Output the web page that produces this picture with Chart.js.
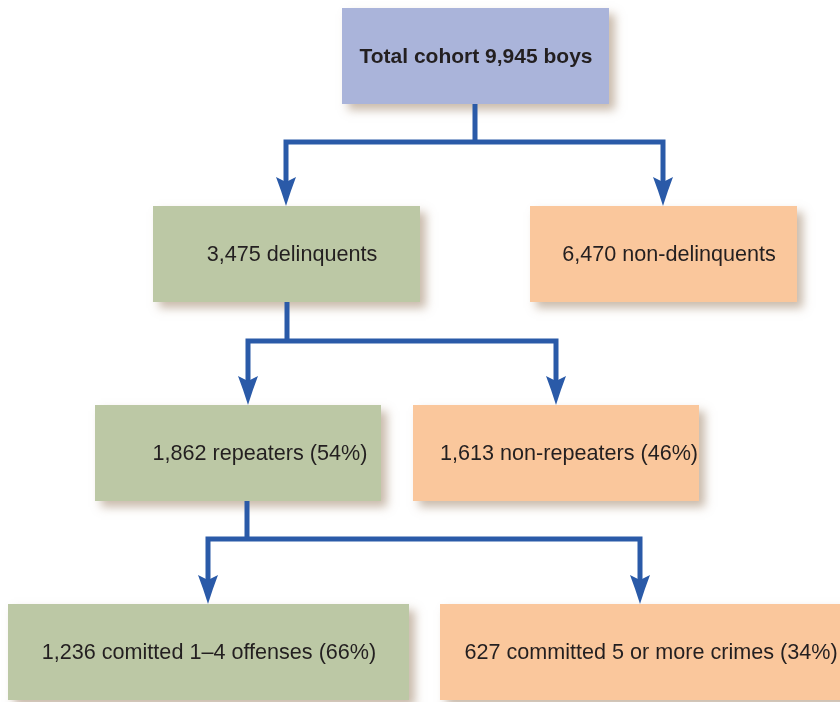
<!DOCTYPE html>
<html>
<head>
<meta charset="utf-8">
<script src="https://cdn.jsdelivr.net/npm/chart.js@4"></script>
<style>
  html, body { margin: 0; padding: 0; background: #fff; }
  canvas { display: block; }
</style>
</head>
<body>
<canvas id="chart1" width="840" height="702"></canvas>
<script>
// Nodes of the cohort tree
const nodeLabels = [
  'Total cohort 9,945 boys',
  '3,475 delinquents',
  '6,470 non-delinquents',
  '1,862 repeaters (54%)',
  '1,613 non-repeaters (46%)',
  '1,236 comitted 1\u20134 offenses (66%)',
  '627 committed 5 or more crimes (34%)'
];
const nodeKind = ['root', 'yes', 'no', 'yes', 'no', 'yes', 'no'];
// parent -> [left child, right child]
const splits = [[0, 1, 2], [1, 3, 4], [3, 5, 6]];

// Layout (px in the 840x702 frame)
const boxLeft   = [342, 153, 530,  95, 413,   8, 440];
const boxRight  = [609, 420, 797, 381, 699, 409, 850];
const boxTop    = [  8, 206, 206, 405, 405, 604, 604];
const boxBottom = [104, 302, 302, 501, 501, 700, 700];
const textX     = [476, 292, 669, 260, 569, 209, 651];
const stemX     = [475, 287, 247];
const barY      = [142, 341, 539];
const dropX     = [[286, 663], [248, 556], [208, 640]];

const fills = { root: '#aab4da', yes: '#bcc8a5', no: '#fac79c' };
const lineColor = '#2a5aa8';
const arrowLen = 29;

// connector lines as datasets
const datasets = [];
splits.forEach((s, i) => {
  const p = s[0];
  datasets.push({
    data: [{ x: stemX[i], y: boxBottom[p] }, { x: stemX[i], y: barY[i] }]
  });
  datasets.push({
    data: [
      { x: dropX[i][0], y: boxTop[s[1]] - arrowLen + 6 },
      { x: dropX[i][0], y: barY[i] },
      { x: dropX[i][1], y: barY[i] },
      { x: dropX[i][1], y: boxTop[s[2]] - arrowLen + 6 }
    ]
  });
});
datasets.forEach(d => {
  d.showLine = true;
  d.borderColor = lineColor;
  d.borderWidth = 5;
  d.pointRadius = 0;
  d.borderJoinStyle = 'miter';
  d.borderCapStyle = 'butt';
  d.tension = 0;
  d.clip = false;
});

const treePlugin = {
  id: 'tree',
  beforeDatasetsDraw(chart) {
    const { ctx, scales: { x, y } } = chart;
    ctx.save();
    nodeLabels.forEach((lbl, i) => {
      const x0 = x.getPixelForValue(boxLeft[i]);
      const x1 = x.getPixelForValue(boxRight[i]);
      const y0 = y.getPixelForValue(boxTop[i]);
      const y1 = y.getPixelForValue(boxBottom[i]);
      ctx.shadowColor = 'rgba(150, 120, 90, 0.5)';
      ctx.shadowBlur = 9;
      ctx.shadowOffsetX = 6;
      ctx.shadowOffsetY = 6;
      ctx.fillStyle = fills[nodeKind[i]];
      ctx.fillRect(x0, y0, x1 - x0, y1 - y0);
    });
    ctx.restore();
  },
  afterDatasetsDraw(chart) {
    const { ctx, scales: { x, y } } = chart;
    ctx.save();
    // arrow heads
    ctx.fillStyle = lineColor;
    splits.forEach((s, i) => {
      [1, 2].forEach(k => {
        const cx = x.getPixelForValue(dropX[i][k - 1]);
        const tip = y.getPixelForValue(boxTop[s[k]]);
        ctx.beginPath();
        ctx.moveTo(cx, tip);
        ctx.quadraticCurveTo(cx - 5, tip - 16, cx - 10, tip - arrowLen);
        ctx.lineTo(cx, tip - arrowLen + 5);
        ctx.lineTo(cx + 10, tip - arrowLen);
        ctx.quadraticCurveTo(cx + 5, tip - 16, cx, tip);
        ctx.fill();
      });
    });
    // labels
    ctx.fillStyle = '#231f20';
    ctx.textAlign = 'center';
    ctx.textBaseline = 'middle';
    nodeLabels.forEach((lbl, i) => {
      ctx.font = (i === 0 ? 'bold 21px' : '21.6px') + ' "Liberation Sans", Arial, sans-serif';
      const cy = y.getPixelForValue((boxTop[i] + boxBottom[i]) / 2);
      ctx.fillText(lbl, x.getPixelForValue(textX[i]), cy + 1);
    });
    ctx.restore();
  }
};

new Chart(document.getElementById('chart1').getContext('2d'), {
  type: 'scatter',
  data: { datasets },
  options: {
    responsive: false,
    animation: false,
    layout: { padding: 0 },
    scales: {
      x: { type: 'linear', min: 0, max: 840, display: false },
      y: { type: 'linear', min: 0, max: 702, reverse: true, display: false }
    },
    plugins: { legend: { display: false }, tooltip: { enabled: false } }
  },
  plugins: [treePlugin]
});
</script>
</body>
</html>
